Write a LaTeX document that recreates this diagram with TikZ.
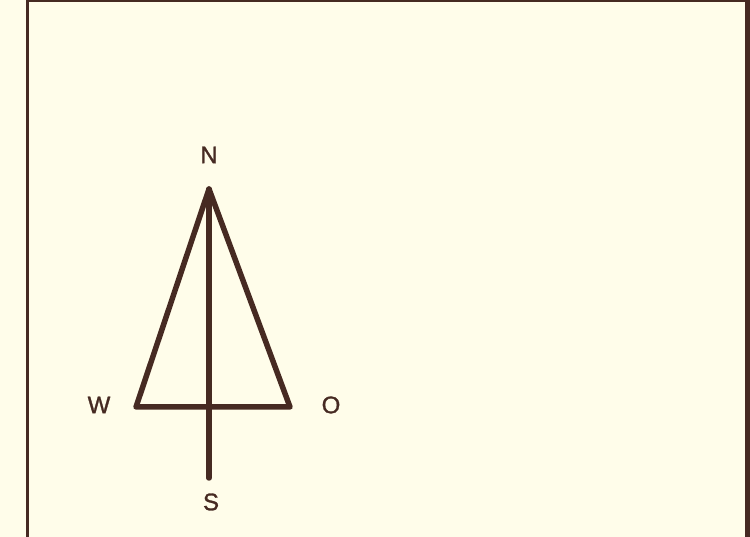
\documentclass[tikz,border=0pt]{standalone}
\usepackage{fontspec}
\setmainfont{Liberation Sans}
\newfontfamily\labelfont[FakeBold=1.2]{Liberation Sans}
\usetikzlibrary{positioning}
\definecolor{paper}{RGB}{255,253,234}
\definecolor{ink}{RGB}{70,42,34}

\begin{document}
\begin{tikzpicture}[x=1pt,y=1pt,
  needle/.style={ink, line width=5.5pt, line cap=round, line join=round},
  compasslabel/.style={ink, inner sep=0pt, font=\labelfont\fontsize{24}{28}\selectfont}]

%---------------------------------------
% Page and frame
%---------------------------------------
\fill[paper] (0,0) rectangle (750,537);
\useasboundingbox (0,0) rectangle (750,537);
\draw[ink, line width=3pt] (27,0) -- (27,536) -- (746,536);
\fill[ink] (745,0) rectangle (750,537);

%---------------------------------------
% Compass points
%---------------------------------------
\def\Cx{209}
\coordinate (apex)    at (\Cx,348);
\coordinate (wcorner) at (136,130);
\coordinate (ocorner) at (290,130);
\coordinate (tail)    at (\Cx,59);

%---------------------------------------
% North arrow
%---------------------------------------
\draw[needle] (apex) -- (wcorner) -- (ocorner) -- cycle;
\draw[needle] (apex) -- (tail);

%---------------------------------------
% Labels
%---------------------------------------
\node[compasslabel] (lblN) at (\Cx,382) {N};
\node[compasslabel] (lblW) at (99,132)  {W};
\node[compasslabel] (lblO) at (331,132) {O};
\node[compasslabel] (lblS) at (211,35)  {S};

\end{tikzpicture}
\end{document}
